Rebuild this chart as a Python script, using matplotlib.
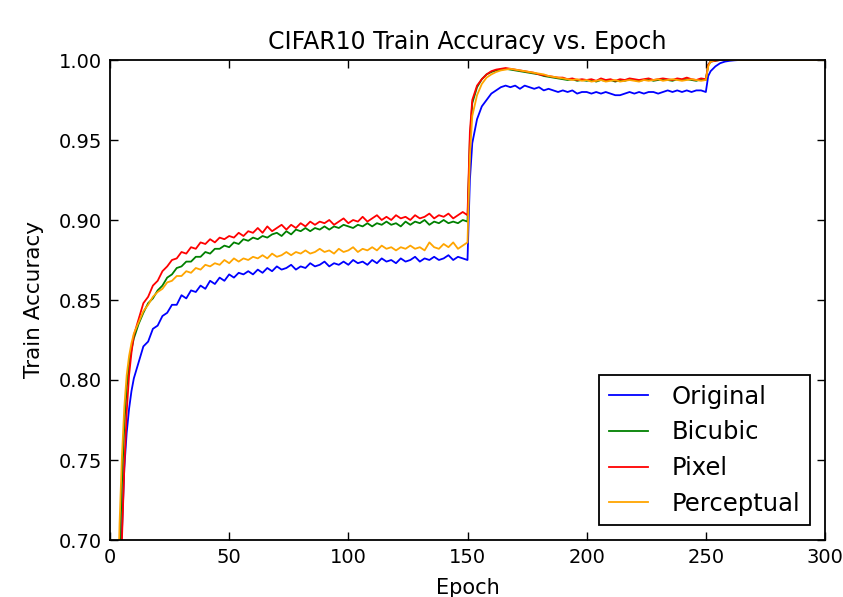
import matplotlib
matplotlib.use("Agg")
import matplotlib.pyplot as plt

epochs = (list(range(1, 11)) + list(range(12, 151, 2)) + [151]
          + list(range(152, 251, 2)) + [251] + list(range(252, 301, 2)))

original = [
    0.40, 0.52, 0.61, 0.68, 0.705, 0.745, 0.767, 0.782, 0.793, 0.801,
    0.811, 0.821, 0.824, 0.832, 0.834, 0.840, 0.842, 0.847, 0.847, 0.853,
    0.851, 0.856, 0.855, 0.859, 0.857, 0.862, 0.860, 0.864, 0.862, 0.866,
    0.864, 0.867, 0.866, 0.868, 0.866, 0.869, 0.867, 0.870, 0.868, 0.871,
    0.869, 0.870, 0.872, 0.869, 0.871, 0.870, 0.873, 0.871, 0.872, 0.874,
    0.871, 0.873, 0.872, 0.874, 0.872, 0.875, 0.873, 0.874, 0.872, 0.875,
    0.873, 0.876, 0.874, 0.875, 0.873, 0.876, 0.874, 0.875, 0.877, 0.874,
    0.876, 0.875, 0.877, 0.875, 0.876, 0.878, 0.875, 0.877, 0.876, 0.875,
    0.925,
    0.948, 0.963, 0.971, 0.975, 0.979, 0.981, 0.983, 0.984, 0.983, 0.984,
    0.982, 0.984, 0.983, 0.982, 0.983, 0.981, 0.982, 0.981, 0.980, 0.981,
    0.980, 0.981, 0.979, 0.980, 0.980, 0.979, 0.980, 0.979, 0.980, 0.979,
    0.978, 0.978, 0.979, 0.980, 0.979, 0.980, 0.979, 0.980, 0.980, 0.979,
    0.980, 0.981, 0.980, 0.981, 0.980, 0.981, 0.980, 0.981, 0.981, 0.980,
    0.990,
    0.993, 0.996, 0.998, 0.999, 0.9995, 0.9998, 1.0, 1.0, 1.0, 1.0,
    1.0, 1.0, 1.0, 1.0, 1.0, 1.0, 1.0, 1.0, 1.0, 1.0,
    1.0, 1.0, 1.0, 1.0, 1.0,
]

bicubic = [
    0.40, 0.52, 0.62, 0.69, 0.735, 0.772, 0.795, 0.810, 0.819, 0.826,
    0.835, 0.842, 0.848, 0.851, 0.856, 0.859, 0.864, 0.866, 0.870, 0.871,
    0.874, 0.874, 0.877, 0.877, 0.880, 0.879, 0.882, 0.882, 0.884, 0.883,
    0.886, 0.885, 0.888, 0.887, 0.889, 0.888, 0.890, 0.889, 0.891, 0.892,
    0.890, 0.893, 0.891, 0.894, 0.893, 0.895, 0.893, 0.895, 0.894, 0.896,
    0.894, 0.896, 0.895, 0.897, 0.896, 0.895, 0.897, 0.896, 0.898, 0.896,
    0.898, 0.897, 0.899, 0.897, 0.898, 0.896, 0.899, 0.897, 0.899, 0.898,
    0.900, 0.897, 0.899, 0.898, 0.900, 0.898, 0.899, 0.898, 0.900, 0.899,
    0.950,
    0.973, 0.983, 0.988, 0.991, 0.9925, 0.9935, 0.994, 0.9945, 0.994, 0.9935,
    0.993, 0.9925, 0.992, 0.9915, 0.991, 0.990, 0.9895, 0.989, 0.9885, 0.988,
    0.9875, 0.988, 0.987, 0.9875, 0.987, 0.9875, 0.9865, 0.9875, 0.987, 0.9875,
    0.9865, 0.9875, 0.987, 0.988, 0.9875, 0.987, 0.9875, 0.988, 0.987, 0.9875,
    0.988, 0.9875, 0.987, 0.988, 0.9875, 0.988, 0.9875, 0.987, 0.988, 0.9875,
    0.997,
    0.999, 0.9995, 1.0, 1.0, 1.0, 1.0, 1.0, 1.0, 1.0, 1.0,
    1.0, 1.0, 1.0, 1.0, 1.0, 1.0, 1.0, 1.0, 1.0, 1.0,
    1.0, 1.0, 1.0, 1.0, 1.0,
]

pixel = [
    0.35, 0.45, 0.55, 0.63, 0.70, 0.745, 0.780, 0.803, 0.817, 0.828,
    0.838, 0.848, 0.852, 0.859, 0.862, 0.868, 0.871, 0.875, 0.876, 0.880,
    0.879, 0.883, 0.882, 0.886, 0.885, 0.888, 0.886, 0.889, 0.888, 0.890,
    0.889, 0.892, 0.890, 0.893, 0.892, 0.895, 0.892, 0.896, 0.893, 0.895,
    0.897, 0.894, 0.897, 0.895, 0.898, 0.896, 0.899, 0.897, 0.899, 0.898,
    0.900, 0.897, 0.899, 0.901, 0.898, 0.900, 0.899, 0.902, 0.899, 0.901,
    0.903, 0.900, 0.902, 0.900, 0.903, 0.901, 0.902, 0.900, 0.903, 0.901,
    0.902, 0.904, 0.901, 0.903, 0.902, 0.904, 0.901, 0.903, 0.905, 0.903,
    0.955,
    0.975, 0.984, 0.988, 0.991, 0.993, 0.994, 0.9945, 0.995, 0.9945, 0.994,
    0.9935, 0.993, 0.9925, 0.992, 0.991, 0.9905, 0.990, 0.9895, 0.989, 0.989,
    0.988, 0.9885, 0.9875, 0.988, 0.9875, 0.988, 0.987, 0.9885, 0.9875, 0.988,
    0.987, 0.988, 0.9875, 0.9885, 0.988, 0.9875, 0.988, 0.9885, 0.9875, 0.988,
    0.9885, 0.988, 0.9875, 0.9885, 0.988, 0.989, 0.988, 0.9875, 0.9885, 0.988,
    0.997,
    0.999, 0.9995, 1.0, 1.0, 1.0, 1.0, 1.0, 1.0, 1.0, 1.0,
    1.0, 1.0, 1.0, 1.0, 1.0, 1.0, 1.0, 1.0, 1.0, 1.0,
    1.0, 1.0, 1.0, 1.0, 1.0,
]

perceptual = [
    0.42, 0.55, 0.65, 0.71, 0.752, 0.783, 0.803, 0.815, 0.823, 0.829,
    0.836, 0.843, 0.847, 0.852, 0.855, 0.857, 0.861, 0.862, 0.865, 0.865,
    0.868, 0.867, 0.870, 0.869, 0.872, 0.871, 0.873, 0.872, 0.875, 0.873,
    0.876, 0.874, 0.876, 0.875, 0.877, 0.876, 0.878, 0.876, 0.879, 0.877,
    0.878, 0.880, 0.878, 0.880, 0.879, 0.881, 0.879, 0.880, 0.882, 0.880,
    0.881, 0.879, 0.882, 0.880, 0.881, 0.883, 0.880, 0.882, 0.881, 0.883,
    0.881, 0.884, 0.882, 0.883, 0.881, 0.883, 0.882, 0.884, 0.882, 0.883,
    0.881, 0.886, 0.883, 0.882, 0.885, 0.883, 0.886, 0.882, 0.884, 0.886,
    0.940,
    0.965, 0.978, 0.985, 0.989, 0.991, 0.9925, 0.9935, 0.994, 0.9945, 0.994,
    0.9935, 0.993, 0.9925, 0.992, 0.9915, 0.991, 0.990, 0.9895, 0.989, 0.9885,
    0.988, 0.9875, 0.988, 0.987, 0.9875, 0.9865, 0.987, 0.9875, 0.9865, 0.987,
    0.9875, 0.9865, 0.987, 0.9875, 0.987, 0.9865, 0.9875, 0.987, 0.9875, 0.988,
    0.987, 0.9875, 0.988, 0.9875, 0.987, 0.9875, 0.988, 0.9875, 0.987, 0.9875,
    0.996,
    0.999, 1.0, 1.0, 1.0, 1.0, 1.0, 1.0, 1.0, 1.0, 1.0,
    1.0, 1.0, 1.0, 1.0, 1.0, 1.0, 1.0, 1.0, 1.0, 1.0,
    1.0, 1.0, 1.0, 1.0, 1.0,
]

labels = ["Original", "Bicubic", "Pixel", "Perceptual"]
colors = ["#0000ff", "#008000", "#ff0000", "#ffa500"]
yticks = [0.70, 0.75, 0.80, 0.85, 0.90, 0.95, 1.00]
xticks = [0, 50, 100, 150, 200, 250, 300]

plt.rcParams['font.family'] = ['DejaVu Sans']

fig = plt.figure(figsize=(8.43, 5.97), dpi=100)
ax = fig.add_axes([110 / 843, 57 / 597, 715 / 843, 480 / 597])

for series, lab, col in zip([original, bicubic, pixel, perceptual], labels, colors):
    ax.plot(epochs, series, color=col, lw=1.3, label=lab)

ax.set_xlim(0, 300)
ax.set_ylim(0.70, 1.00)
ax.set_xticks(xticks)
ax.set_yticks(yticks)
ax.set_yticklabels(["%.2f" % t for t in yticks])
ax.tick_params(direction='in', top=True, right=True, length=6, width=1,
               labelsize=14, pad=6)
for sp in ax.spines.values():
    sp.set_linewidth(1.3)

ax.set_title("CIFAR10 Train Accuracy vs. Epoch", fontsize=17, pad=8)
ax.set_xlabel("Epoch", fontsize=15, labelpad=8)
ax.set_ylabel("Train Accuracy", fontsize=15.5, labelpad=10)

leg = ax.legend(loc='lower right', fontsize=17.5, fancybox=False,
                edgecolor='black', framealpha=1, handlelength=1.6,
                handletextpad=1.0, labelspacing=0.48, borderpad=0.4,
                borderaxespad=0.6)
leg.get_frame().set_linewidth(1.3)

fig.savefig("out.png", dpi=100)
